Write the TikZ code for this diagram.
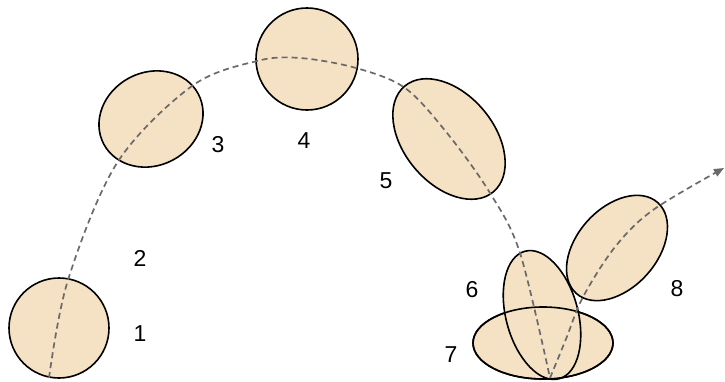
\documentclass[tikz,border=0pt]{standalone}
\usepackage{fontspec}
\setmainfont{Liberation Sans}
\usetikzlibrary{arrows.meta,shapes.geometric}
\definecolor{eggfill}{HTML}{F5E1C4}
\definecolor{pathgray}{HTML}{6A6A6A}
\tikzset{
  egg/.style={ellipse, inner sep=0pt, outer sep=0pt, fill=eggfill, draw=black, line width=1.6pt},
  eggline/.style={ellipse, inner sep=0pt, outer sep=0pt, draw=black, line width=1.6pt},
  lbl/.style={font=\fontsize{23}{27}\selectfont, inner sep=0pt},
  trail/.style={pathgray, line width=1.7pt, dash pattern=on 6pt off 4pt}
}
\begin{document}
\begin{tikzpicture}[x=1pt,y=1pt]
\useasboundingbox (0,0) rectangle (725,381);
% the bouncing shapes
\node[egg, minimum width=100pt, minimum height=100pt] (e1) at (59,53) {};
\node[egg, minimum width=107pt, minimum height=93pt, rotate=28] (e3) at (151,262) {};
\node[egg, minimum width=102pt, minimum height=102pt] (e4) at (307,322) {};
\node[egg, minimum width=138pt, minimum height=90pt, rotate=-50] (e5) at (449,242) {};
\node[egg, minimum width=122pt, minimum height=80pt, rotate=48] (e8) at (617,133) {};
\node[egg, minimum width=140pt, minimum height=72pt] (e7) at (543,38) {};
\node[egg, minimum width=132pt, minimum height=72pt, rotate=105] (e6) at (542,66) {};
\node[eggline, minimum width=140pt, minimum height=72pt] (e7o) at (543,38) {};
% trajectory
\draw[trail] plot[smooth, tension=0.55] coordinates {
  (49,3) (68,101) (117,218) (192,295) (257,320) (300,323) (356,313)
  (405,293) (447,248) (490,188) (520,128) (550,3)};
\draw[trail, -{Triangle[length=10pt,width=8pt]}] plot[smooth, tension=0.55] coordinates {
  (550,3) (566,42) (583,84) (615,134) (653,171) (724,213)};
% labels
\node[lbl] (l1) at (140,47) {1};
\node[lbl] (l2) at (140,123) {2};
\node[lbl] (l3) at (218,236) {3};
\node[lbl] (l4) at (304,240) {4};
\node[lbl] (l5) at (386,200) {5};
\node[lbl] (l6) at (472,91) {6};
\node[lbl] (l7) at (451,26) {7};
\node[lbl] (l8) at (677,92) {8};
\end{tikzpicture}
\end{document}
